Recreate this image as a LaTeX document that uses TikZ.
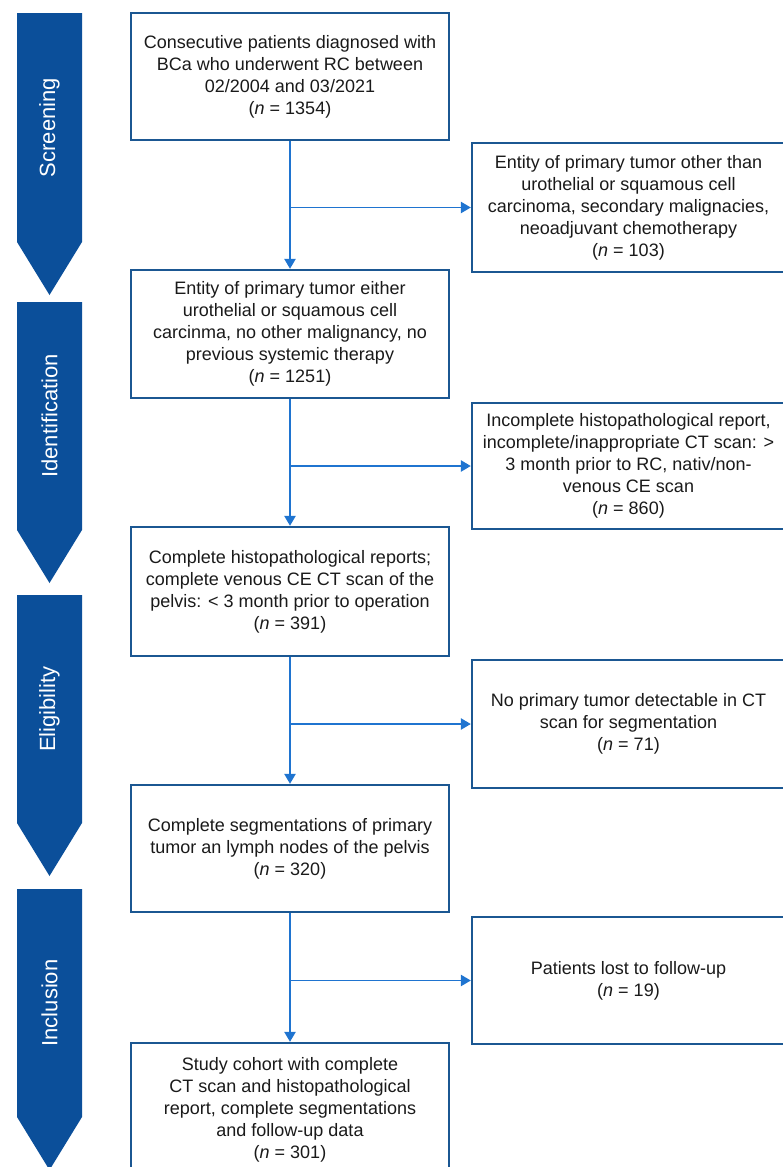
\documentclass[tikz,border=0pt]{standalone}
\usepackage{fontspec}
\setmainfont{Liberation Sans}
\usetikzlibrary{arrows.meta}
\definecolor{phase}{HTML}{0B4F9A}
\definecolor{boxline}{HTML}{1B5792}
\definecolor{conn}{HTML}{1F74D0}
\definecolor{txt}{HTML}{1A1A1A}
\tikzset{
  mainbox/.style={draw=boxline, line width=1.8pt, fill=white, inner sep=0pt,
    minimum width=318*0.75pt, align=center, text=txt,
    font=\fontsize{13.5}{16.5}\selectfont},
  sidebox/.style={mainbox, minimum width=313*0.75pt},
  connline/.style={draw=conn, line width=1.2pt},
  connarrow/.style={connline, -{Triangle[length=7.5pt,width=8.5pt]}},
  phasefill/.style={fill=phase, draw=none},
  phaselabel/.style={rotate=90, text=white, inner sep=0pt,
    font=\fontsize{16.5}{20}\selectfont}
}
\begin{document}
\begin{tikzpicture}[x=0.75pt,y=-0.75pt]
\useasboundingbox (0,0) rectangle (782,1167);
% phase arrows
\fill[phasefill] (17,13) -- (82,13) -- (82,242) -- (49.5,295) -- (17,242) -- cycle;
\fill[phasefill] (17,302) -- (82,302) -- (82,530) -- (49.5,583) -- (17,530) -- cycle;
\fill[phasefill] (17,595) -- (82,595) -- (82,823) -- (49.5,876) -- (17,823) -- cycle;
\fill[phasefill] (17,889) -- (82,889) -- (82,1117) -- (49.5,1170) -- (17,1117) -- cycle;
\node[phaselabel] (p1) at (49.5,127.5) {Screening};
\node[phaselabel] (p2) at (49.5,416) {Identification};
\node[phaselabel] (p3) at (49.5,709) {Eligibility};
\node[phaselabel] (p4) at (49.5,1003) {Inclusion};
% main boxes
\node[mainbox, minimum height=127*0.75pt] (b1) at (290,76.5)
  {Consecutive patients diagnosed with\\BCa who underwent RC between\\02/2004 and 03/2021\\(\textit{n} = 1354)};
\node[mainbox, minimum height=128*0.75pt] (b2) at (290,334)
  {Entity of primary tumor either\\urothelial or squamous cell\\carcinma, no other malignancy, no\\previous systemic therapy\\(\textit{n} = 1251)};
\node[mainbox, minimum height=129*0.75pt] (b3) at (290,591.5)
  {Complete histopathological reports;\\complete venous CE CT scan of the\\pelvis: < 3 month prior to operation\\(\textit{n} = 391)};
\node[mainbox, minimum height=127*0.75pt] (b4) at (290,848.5)
  {Complete segmentations of primary\\tumor an lymph nodes of the pelvis\\(\textit{n} = 320)};
\node[mainbox, minimum height=134*0.75pt] (b5) at (290,1110)
  {Study cohort with complete\\CT scan and histopathological\\report, complete segmentations\\and follow-up data\\(\textit{n} = 301)};
% side boxes
\node[sidebox, minimum height=129*0.75pt] (r1) at (628.5,207.5)
  {Entity of primary tumor other than\\urothelial or squamous cell\\carcinoma, secondary malignacies,\\neoadjuvant chemotherapy\\(\textit{n} = 103)};
\node[sidebox, minimum height=126*0.75pt] (r2) at (628.5,466)
  {Incomplete histopathological report,\\incomplete/inappropriate CT scan: >\\3 month prior to RC, nativ/non-\\venous CE scan\\(\textit{n} = 860)};
\node[sidebox, minimum height=128*0.75pt] (r3) at (628.5,724)
  {No primary tumor detectable in CT\\scan for segmentation\\(\textit{n} = 71)};
\node[sidebox, minimum height=127*0.75pt] (r4) at (628.5,980.5)
  {Patients lost to follow-up\\(\textit{n} = 19)};
% connectors
\draw[connarrow] (b1.south) -- (b2.north);
\draw[connarrow] (b2.south) -- (b3.north);
\draw[connarrow] (b3.south) -- (b4.north);
\draw[connarrow] (b4.south) -- (b5.north);
\draw[connarrow] (b1.south |- r1.west) -- (r1.west);
\draw[connarrow] (b2.south |- r2.west) -- (r2.west);
\draw[connarrow] (b3.south |- r3.west) -- (r3.west);
\draw[connarrow] (b4.south |- r4.west) -- (r4.west);
\end{tikzpicture}
\end{document}
